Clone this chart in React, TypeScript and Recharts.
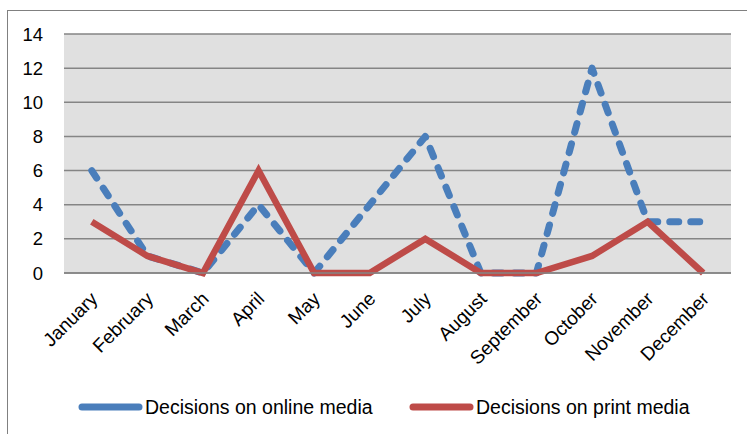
import React from 'react';
import { LineChart, Line, XAxis, YAxis, CartesianGrid, Legend } from 'recharts';

const months = ['January','February','March','April','May','June','July','August','September','October','November','December'];
const onlineMedia = [6, 1, 0, 4, 0, 4, 8, 0, 0, 12, 3, 3];
const printMedia = [3, 1, 0, 6, 0, 0, 2, 0, 0, 1, 3, 0];
const yTicks = [0, 2, 4, 6, 8, 10, 12, 14];
const seriesNames = ['Decisions on online media', 'Decisions on print media'];
const seriesColors = ['#4a7ebb', '#be4b48'];

const data = months.map((m, i) => ({ month: m, online: onlineMedia[i], print: printMedia[i] }));

const FONT = '"Liberation Sans", Arial, sans-serif';

const XTick = (props: any) => {
  const { x, y, payload } = props;
  const ax = x + 7;
  const ay = y + 27;
  return (
    <text x={ax} y={ay} textAnchor="end" fontFamily={FONT} fontSize={19} fill="#000" transform={`rotate(-45, ${ax}, ${ay})`}>
      {payload.value}
    </text>
  );
};

const YTick = (props: any) => {
  const { y, payload } = props;
  return (
    <text x={43} y={y} dy={6.5} textAnchor="end" fontFamily={FONT} fontSize={18.5} fill="#000">
      {payload.value}
    </text>
  );
};

const LegendContent = () => (
  <div style={{ position: 'relative', height: 30, fontFamily: FONT, fontSize: 19.5, lineHeight: '24px' }}>
    {seriesNames.map((n, i) => (
      <div key={n} style={{ position: 'absolute', left: i === 0 ? 76 : 407, top: 0, display: 'flex', alignItems: 'center', whiteSpace: 'nowrap' }}>
        <svg width={68} height={12} style={{ display: 'block' }}>
          <line x1={6} y1={6} x2={63} y2={6} stroke={seriesColors[i]} strokeWidth={7} strokeLinecap="round" />
        </svg>
        <span style={{ color: '#000', marginLeft: 1 }}>{n}</span>
      </div>
    ))}
  </div>
);

export default function App() {
  return (
    <div style={{ position: 'absolute', left: 0, top: 0, width: 747, height: 434, background: '#fff', overflow: 'hidden' }}>
      <style>{`.online-line path { stroke-linecap: round; stroke-linejoin: round; }`}</style>
      <div style={{ position: 'absolute', left: 7, top: 10, width: 745, height: 430, borderLeft: '1px solid #808080', borderTop: '1px solid #808080' }} />
      <div style={{ position: 'absolute', left: 0, top: 0 }}>
        <LineChart width={747} height={434} data={data} margin={{ top: 34, right: 16, left: 0, bottom: 0 }}>
          <CartesianGrid vertical={false} fill="#e0e0e0" stroke="#858585" strokeWidth={1.5} />
          <XAxis dataKey="month" height={161} interval={0} padding={{ left: 27.8, right: 27.8 }} tick={<XTick />} tickLine={false} tickSize={0} tickMargin={0} axisLine={{ stroke: '#858585', strokeWidth: 1.5 }} />
          <YAxis width={64} domain={[0, 14]} ticks={yTicks} tick={<YTick />} tickLine={false} tickSize={0} tickMargin={0} axisLine={false} />
          <Legend layout="horizontal" verticalAlign="middle" align="center" content={<LegendContent />} wrapperStyle={{ position: 'absolute', left: 0, top: 395, width: 747, height: 30 }} />
          <Line className="online-line" type="linear" dataKey="online" name={seriesNames[0]} stroke={seriesColors[0]} strokeWidth={7} strokeDasharray="9 12" dot={false} activeDot={false} isAnimationActive={false} />
          <Line type="linear" dataKey="print" name={seriesNames[1]} stroke={seriesColors[1]} strokeWidth={6.5} dot={false} activeDot={false} isAnimationActive={false} />
        </LineChart>
      </div>
    </div>
  );
}
